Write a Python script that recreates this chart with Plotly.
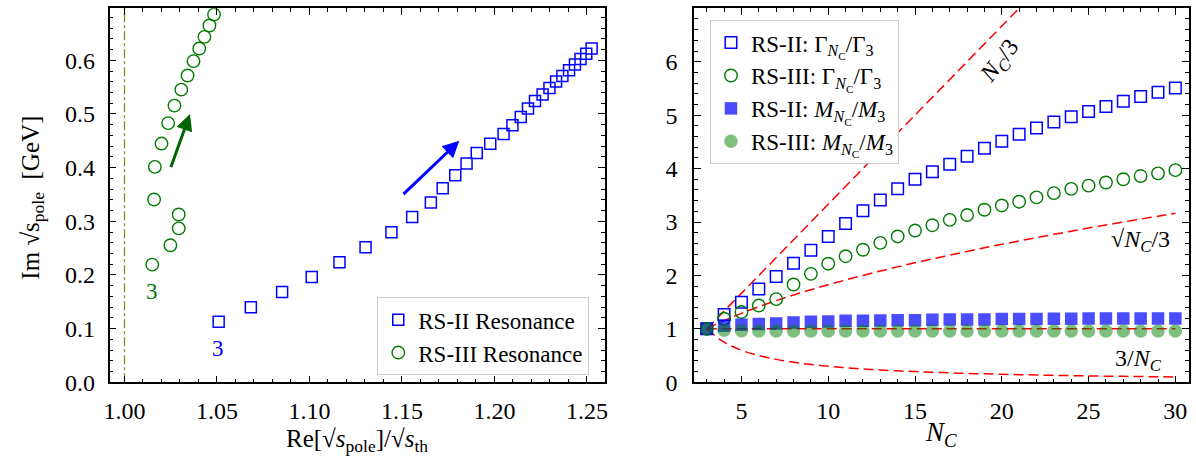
import plotly.graph_objects as go

# ---------------- Left panel: pole trajectories ----------------
rs2_re = [1.0509, 1.0683, 1.0852, 1.1012, 1.1162, 1.1303, 1.1443, 1.1555, 1.1656, 1.1720,
          1.1788, 1.1849, 1.1904, 1.1977, 1.2049, 1.2097, 1.2142, 1.2181, 1.2219, 1.2260,
          1.2297, 1.2333, 1.2367, 1.2403, 1.2435, 1.2465, 1.2496, 1.2525]
rs2_im = [0.1129, 0.1400, 0.1685, 0.1962, 0.2239, 0.2518, 0.2795, 0.3080, 0.3351, 0.3616,
          0.3859, 0.4076, 0.4275, 0.4444, 0.4625, 0.4788, 0.4946, 0.5101, 0.5241, 0.5362,
          0.5482, 0.5603, 0.5707, 0.5815, 0.5924, 0.6025, 0.6123, 0.6219]
rs3_re = [1.0150, 1.0248, 1.0293, 1.0293, 1.0160, 1.0164, 1.0200, 1.0236, 1.0270, 1.0307,
          1.0341, 1.0373, 1.0404, 1.0432, 1.0459, 1.0484]
rs3_im = [0.2192, 0.2554, 0.2868, 0.3127, 0.3406, 0.4014, 0.4449, 0.4830, 0.5156, 0.5453,
          0.5717, 0.5984, 0.6219, 0.6437, 0.6649, 0.6853]
threshold_x = [1.0, 1.0]
threshold_y = [0.0, 0.70]
# arrows: (tail_x, tail_y, head_x, head_y)
arrow_rs2 = [1.150, 0.348, 1.181, 0.450]
arrow_rs3 = [1.0248, 0.3986, 1.0354, 0.500]

# ---------------- Right panel: Nc scaling ----------------
nc = list(range(3, 31))
gamma_rs2 = [1.00, 1.27, 1.50, 1.745, 1.98, 2.23, 2.47, 2.73, 2.97, 3.21, 3.41, 3.62, 3.80, 3.94,
             4.08, 4.23, 4.38, 4.51, 4.64, 4.76, 4.87, 4.97, 5.07, 5.16, 5.26, 5.35, 5.43, 5.51]
gamma_rs3 = [1.00, 1.19, 1.315, 1.436, 1.556, 1.83, 2.03, 2.22, 2.36, 2.48, 2.61, 2.73, 2.84, 2.94,
             3.04, 3.13, 3.23, 3.31, 3.38, 3.46, 3.54, 3.62, 3.68, 3.74, 3.80, 3.86, 3.91, 3.97]
mass_rs2 = [1.00, 1.06, 1.075, 1.09, 1.10, 1.12, 1.135, 1.14, 1.15, 1.15, 1.155, 1.16, 1.16, 1.17,
            1.175, 1.175, 1.175, 1.185, 1.185, 1.185, 1.19, 1.19, 1.195, 1.195, 1.195, 1.195, 1.195, 1.195]
mass_rs3 = [1.00, 0.975, 0.965, 0.96, 0.96, 0.96, 0.96, 0.96, 0.96, 0.96, 0.96, 0.96, 0.96, 0.96,
            0.96, 0.96, 0.96, 0.96, 0.96, 0.96, 0.96, 0.96, 0.96, 0.96, 0.96, 0.96, 0.96, 0.96]
# reference curves (values of Nc/3, sqrt(Nc/3), 3/Nc and 1)
lin_ref_x = [3, 30]
lin_ref_y = [1.0, 10.0]
const_ref_y = [1.0, 1.0]
sqrt_ref_y = [1.000, 1.155, 1.291, 1.414, 1.528, 1.633, 1.732, 1.826, 1.915, 2.000, 2.082, 2.160,
              2.236, 2.309, 2.380, 2.449, 2.517, 2.582, 2.646, 2.708, 2.769, 2.828, 2.887, 2.944,
              3.000, 3.055, 3.109, 3.162]
inv_ref_y = [1.000, 0.750, 0.600, 0.500, 0.429, 0.375, 0.333, 0.300, 0.273, 0.250, 0.231, 0.214,
             0.200, 0.1875, 0.176, 0.167, 0.158, 0.150, 0.143, 0.136, 0.130, 0.125, 0.120, 0.115,
             0.111, 0.107, 0.103, 0.100]

FONT = "Liberation Serif"
BLUE = "#0000ff"
GREEN = "#007a00"
RED = "#ff0000"
W, H = 1196, 465

fig = go.Figure()

# left panel
fig.add_trace(go.Scatter(x=threshold_x, y=threshold_y, mode="lines",
                         line=dict(color="#8c8c1e", width=1.3, dash="dashdot"),
                         showlegend=False, xaxis="x", yaxis="y", hoverinfo="skip"))
fig.add_trace(go.Scatter(x=rs2_re, y=rs2_im, mode="markers", name="RS-II Resonance",
                         marker=dict(symbol="square-open", size=11, color=BLUE, line=dict(width=1.5)),
                         xaxis="x", yaxis="y", legend="legend"))
fig.add_trace(go.Scatter(x=rs3_re, y=rs3_im, mode="markers", name="RS-III Resonance",
                         marker=dict(symbol="circle-open", size=12.5, color=GREEN, line=dict(width=1.4)),
                         xaxis="x", yaxis="y", legend="legend"))

# right panel reference curves
dash = "10px,5px"
for xs, ys in [(lin_ref_x, lin_ref_y), (lin_ref_x, const_ref_y), (nc, sqrt_ref_y), (nc, inv_ref_y)]:
    fig.add_trace(go.Scatter(x=xs, y=ys, mode="lines", line=dict(color=RED, width=1.5, dash=dash, shape="spline"),
                             showlegend=False, xaxis="x2", yaxis="y2", hoverinfo="skip"))

sub_nc = "<sub><i>N</i><sub>C</sub></sub>"
fig.add_trace(go.Scatter(x=nc, y=gamma_rs2, mode="markers",
                         name="RS-II: Γ" + sub_nc + "/Γ<sub>3</sub>",
                         marker=dict(symbol="square-open", size=11.5, color=BLUE, line=dict(width=1.5)),
                         xaxis="x2", yaxis="y2", legend="legend2"))
fig.add_trace(go.Scatter(x=nc, y=gamma_rs3, mode="markers",
                         name="RS-III: Γ" + sub_nc + "/Γ<sub>3</sub>",
                         marker=dict(symbol="circle-open", size=12.5, color=GREEN, line=dict(width=1.4)),
                         xaxis="x2", yaxis="y2", legend="legend2"))
fig.add_trace(go.Scatter(x=nc, y=mass_rs2, mode="markers",
                         name="RS-II: <i>M</i>" + sub_nc + "/<i>M</i><sub>3</sub>",
                         marker=dict(symbol="square", size=12.5, color="rgba(0,0,255,0.7)", line=dict(width=0)),
                         xaxis="x2", yaxis="y2", legend="legend2"))
fig.add_trace(go.Scatter(x=nc, y=mass_rs3, mode="markers",
                         name="RS-III: <i>M</i>" + sub_nc + "/<i>M</i><sub>3</sub>",
                         marker=dict(symbol="circle", size=13.5, color="rgba(0,128,0,0.5)", line=dict(width=0)),
                         xaxis="x2", yaxis="y2", legend="legend2"))

axis_common = dict(showline=True, linecolor="black", linewidth=1.5, mirror="allticks",
                   ticks="inside", ticklen=7, tickwidth=1.3, tickcolor="black",
                   showgrid=False, zeroline=False,
                   tickfont=dict(family=FONT, size=24, color="black"))

left_dom_x = [104.3 / W, 603.3 / W]
right_dom_x = [693.3 / W, 1191.7 / W]
dom_y = [(H - 393.3) / H, (H - 8.5) / H]

fig.update_layout(
    width=W, height=H, margin=dict(l=0, r=0, t=0, b=0),
    paper_bgcolor="white", plot_bgcolor="white",
    font=dict(family=FONT, size=24, color="black"),
    xaxis=dict(domain=left_dom_x, range=[0.9919, 1.2596], dtick=0.05, tick0=1.0, tickformat=".2f",
               minor=dict(ticks="inside", ticklen=4, dtick=0.01, tick0=1.0, tickcolor="black", tickwidth=1),
               ticklabelstandoff=6, anchor="y", **axis_common),
    yaxis=dict(domain=dom_y, range=[0, 0.697], dtick=0.1, tick0=0, tickformat=".1f",
               minor=dict(ticks="inside", ticklen=4, dtick=0.02, tick0=0, tickcolor="black", tickwidth=1),
               ticklabelstandoff=8, anchor="x", **axis_common),
    xaxis2=dict(domain=right_dom_x, range=[2.27, 30.77], dtick=5, tick0=0,
                minor=dict(ticks="inside", ticklen=4, dtick=1, tick0=0, tickcolor="black", tickwidth=1),
                ticklabelstandoff=6, anchor="y2", **axis_common),
    yaxis2=dict(domain=dom_y, range=[0, 7], dtick=1, tick0=0,
                minor=dict(ticks="inside", ticklen=4, dtick=0.2, tick0=0, tickcolor="black", tickwidth=1),
                ticklabelstandoff=10, anchor="x2", **axis_common),
    legend=dict(x=587.7 / W, xanchor="right", y=(H - 386) / H, yanchor="bottom",
                bgcolor="white", bordercolor="#cccccc", borderwidth=1,
                font=dict(family=FONT, size=23, color="black"), tracegroupgap=0, itemwidth=30),
    legend2=dict(x=709.3 / W, xanchor="left", y=(H - 20.7) / H, yanchor="top",
                 bgcolor="white", bordercolor="#cccccc", borderwidth=1,
                 font=dict(family=FONT, size=23, color="black"), tracegroupgap=0, itemwidth=30),
    showlegend=True,
)

annotations = [
    # axis titles
    dict(xref="paper", yref="paper", x=353.8 / W, y=(H - 453) / H, xanchor="center", yanchor="middle",
         text="Re[√<i>s</i><sub>pole</sub>]/√<i>s</i><sub>th</sub>",
         showarrow=False, font=dict(family=FONT, size=25)),
    dict(xref="paper", yref="paper", x=26.5 / W, y=(H - 203) / H, xanchor="center", yanchor="middle",
         textangle=-90, text="Im √s<sub>pole</sub>  [GeV]",
         showarrow=False, font=dict(family=FONT, size=25)),
    dict(xref="paper", yref="paper", x=942.5 / W, y=(H - 446) / H, xanchor="center", yanchor="middle",
         text="<i>N</i><sub><i>C</i></sub>", showarrow=False, font=dict(family=FONT, size=27)),
    # Nc=3 labels
    dict(xref="x", yref="y", x=1.0146, y=0.169, text="3", showarrow=False,
         font=dict(family=FONT, size=23, color=GREEN)),
    dict(xref="x", yref="y", x=1.0508, y=0.0634, text="3", showarrow=False,
         font=dict(family=FONT, size=23, color=BLUE)),
    # arrows
    dict(xref="x", yref="y", axref="x", ayref="y", x=arrow_rs2[2], y=arrow_rs2[3],
         ax=arrow_rs2[0], ay=arrow_rs2[1], text="", showarrow=True, arrowhead=2,
         arrowsize=1.1, arrowwidth=3, arrowcolor=BLUE),
    dict(xref="x", yref="y", axref="x", ayref="y", x=arrow_rs3[2], y=arrow_rs3[3],
         ax=arrow_rs3[0], ay=arrow_rs3[1], text="", showarrow=True, arrowhead=2,
         arrowsize=1.1, arrowwidth=3, arrowcolor="#006400"),
    # curve labels
    dict(xref="x2", yref="y2", x=19.9, y=6.0, text="<i>N<sub>C</sub></i>/3", textangle=-52,
         showarrow=False, font=dict(family=FONT, size=24)),
    dict(xref="x2", yref="y2", x=28.0, y=2.64, text="√<i>N<sub>C</sub></i>/3",
         showarrow=False, font=dict(family=FONT, size=24)),
    dict(xref="x2", yref="y2", x=27.9, y=0.41, text="3/<i>N<sub>C</sub></i>",
         showarrow=False, font=dict(family=FONT, size=24)),
]
fig.update_layout(annotations=annotations)

fig.write_html("out.html", config={"displayModeBar": False},
               post_script="document.body.style.margin='0px';document.body.style.overflow='hidden';")
